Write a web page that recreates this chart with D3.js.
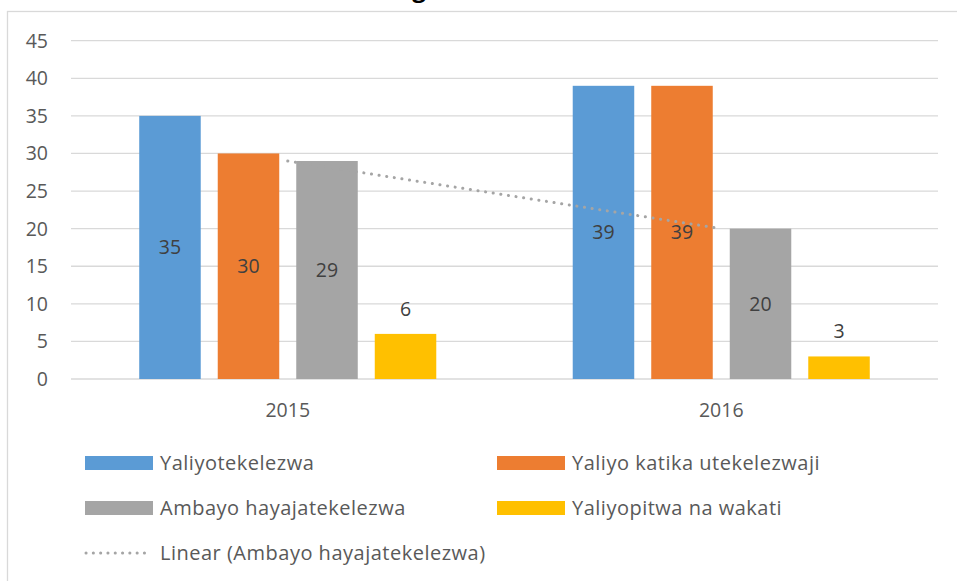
<!DOCTYPE html>
<html lang="en">
<head>
    <meta charset="UTF-8">
    <title>Utekelezaji</title>
    <script src="https://d3js.org/d3.v7.min.js"></script>
    <style>
        body { margin: 0; background: #fff; }
        svg { display: block; font-family: "Open Sans", Lato, sans-serif; }
        .grid line { stroke: #d9d9d9; stroke-width: 1.3px; }
        .tick-label { fill: #595959; font-size: 19.5px; }
        .bar-label { fill: #404040; font-size: 19.5px; }
        .legend-text { fill: #595959; font-size: 20px; letter-spacing: 0.5px; }
    </style>
</head>
<body>
    <svg width="957" height="581"></svg>
    <script>
        const years = ["2015", "2016"];
        const seriesNames = ["Yaliyotekelezwa", "Yaliyo katika utekelezwaji", "Ambayo hayajatekelezwa", "Yaliyopitwa na wakati"];
        const colors = ["#5b9bd5", "#ed7d31", "#a5a5a5", "#ffc000"];
        // values per series, one per year
        const yaliyotekelezwa = [35, 39];
        const katikaUtekelezwaji = [30, 39];
        const hayajatekelezwa = [29, 20];
        const pitwaNaWakati = [6, 3];
        const yTicks = [0, 5, 10, 15, 20, 25, 30, 35, 40, 45];

        const values = [yaliyotekelezwa, katikaUtekelezwaji, hayajatekelezwa, pitwaNaWakati];

        const svg = d3.select("svg");

        // chart frame (extends past right/bottom edge)
        svg.append("rect")
            .attr("x", 7.5).attr("y", 11.5)
            .attr("width", 1000).attr("height", 700)
            .attr("fill", "#fff")
            .attr("stroke", "#d9d9d9")
            .attr("stroke-width", 1.3);

        // title is cut off above, only a descender shows
        svg.append("text")
            .attr("x", 419).attr("y", -3)
            .attr("text-anchor", "middle")
            .style("font-size", "24px")
            .style("font-weight", "bold")
            .style("fill", "#000")
            .text("g");

        const plotLeft = 71, plotRight = 938;
        const y = d3.scaleLinear().domain([0, 45]).range([379, 40.7]);
        const x0 = d3.scaleBand().domain(years).range([plotLeft, plotRight]);
        const x1 = d3.scaleBand().domain(d3.range(4))
            .range([0, x0.bandwidth()])
            .paddingInner(0.2166)
            .paddingOuter(0.869);

        // gridlines
        const grid = svg.append("g").attr("class", "grid");
        grid.selectAll("line").data(yTicks).join("line")
            .attr("x1", plotLeft).attr("x2", plotRight)
            .attr("y1", d => y(d)).attr("y2", d => y(d));

        // y labels
        svg.append("g").selectAll("text").data(yTicks).join("text")
            .attr("class", "tick-label")
            .attr("x", 48)
            .attr("y", d => y(d))
            .attr("dy", "0.36em")
            .attr("text-anchor", "end")
            .text(d => d);

        // x labels
        svg.append("g").selectAll("text").data(years).join("text")
            .attr("class", "tick-label")
            .attr("x", d => x0(d) + x0.bandwidth() / 2)
            .attr("y", 410)
            .attr("dy", "0.36em")
            .attr("text-anchor", "middle")
            .text(d => d);

        // bars
        const cells = [];
        values.forEach((vals, s) => {
            vals.forEach((v, i) => cells.push({ s: s, year: years[i], v: v }));
        });

        svg.append("g").selectAll("rect").data(cells).join("rect")
            .attr("x", d => x0(d.year) + x1(d.s))
            .attr("width", x1.bandwidth())
            .attr("y", d => y(d.v))
            .attr("height", d => y(0) - y(d.v))
            .attr("fill", d => colors[d.s]);

        // linear trendline of gray series (2 points -> passes through both)
        const trend = hayajatekelezwa.map((v, i) => [x0(years[i]) + x0.bandwidth() / 2, y(v)]);
        svg.append("path")
            .attr("d", d3.line()(trend))
            .attr("fill", "none")
            .attr("stroke", "#a5a5a5")
            .attr("stroke-width", 3)
            .attr("stroke-linecap", "round")
            .attr("stroke-dasharray", "0.1 7.6");

        // data labels: centered for first three series, above for the last
        svg.append("g").selectAll("text").data(cells).join("text")
            .attr("class", "bar-label")
            .attr("x", d => x0(d.year) + x1(d.s) + x1.bandwidth() / 2)
            .attr("y", d => d.s === 3 ? y(d.v) - 25 : (y(d.v) + y(0)) / 2)
            .attr("dy", "0.36em")
            .attr("text-anchor", "middle")
            .text(d => d.v);

        // legend
        const legendItems = [
            { name: seriesNames[0], color: colors[0], x: 85, y: 463 },
            { name: seriesNames[1], color: colors[1], x: 497, y: 463 },
            { name: seriesNames[2], color: colors[2], x: 85, y: 508 },
            { name: seriesNames[3], color: colors[3], x: 497, y: 508 }
        ];
        const legend = svg.append("g");
        legend.selectAll("rect").data(legendItems).join("rect")
            .attr("x", d => d.x).attr("y", d => d.y - 7)
            .attr("width", 68).attr("height", 14)
            .attr("fill", d => d.color);
        legend.selectAll("text").data(legendItems).join("text")
            .attr("class", "legend-text")
            .attr("x", d => d.x + 75)
            .attr("y", d => d.y)
            .attr("dy", "0.36em")
            .text(d => d.name);

        legend.append("line")
            .attr("x1", 86).attr("x2", 151)
            .attr("y1", 553).attr("y2", 553)
            .attr("stroke", "#a5a5a5")
            .attr("stroke-width", 3)
            .attr("stroke-linecap", "round")
            .attr("stroke-dasharray", "0.1 7.2");
        legend.append("text")
            .attr("class", "legend-text")
            .attr("x", 160).attr("y", 553)
            .attr("dy", "0.36em")
            .text("Linear (" + seriesNames[2] + ")");
    </script>
</body>
</html>
